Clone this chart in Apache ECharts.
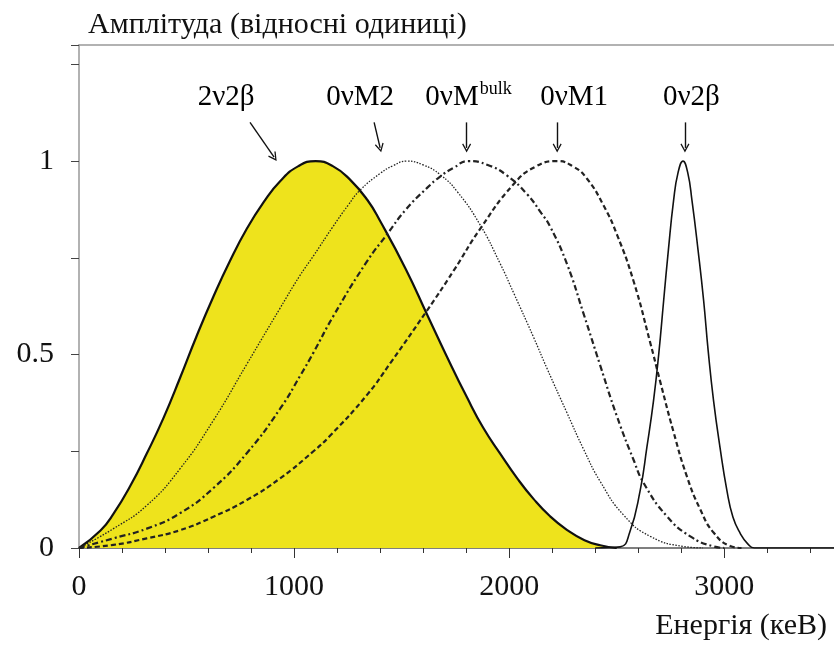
<!DOCTYPE html>
<html><head><meta charset="utf-8">
<script src="https://cdn.jsdelivr.net/npm/echarts@6/dist/echarts.min.js"></script>
<style>html,body{margin:0;padding:0;background:#fff}#c{width:834px;height:653px}</style>
</head><body><div id="c"></div>
<script>
// Energy (keV) and relative amplitude of each spectrum
const e2nu2b = [0,100,160,240,315,392,470,547,625,700,780,860,935,1020,1100,1180,1260,1340,1400,1520,1617,1710,1803,1880,1958,2040,2113,2190,2268,2350,2423,2500];
const v2nu2b = [0,0.045,0.088,0.162,0.244,0.335,0.44,0.548,0.65,0.74,0.825,0.895,0.948,0.987,1.0,0.987,0.952,0.9,0.845,0.72,0.605,0.495,0.39,0.31,0.244,0.178,0.127,0.082,0.047,0.02,0.007,0];

const eM2 = [0,160,315,470,625,780,935,1028,1090,1180,1250,1307,1400,1460,1524,1600,1679,1760,1865,1958,2020,2113,2175,2268,2346,2423,2532,2656,2811,2900];
const vM2 = [0,0.05,0.11,0.205,0.33,0.475,0.62,0.705,0.755,0.83,0.885,0.925,0.968,0.988,1.0,0.99,0.965,0.92,0.835,0.735,0.66,0.545,0.465,0.35,0.255,0.172,0.085,0.03,0.004,0];

const eBulk = [0,160,315,470,625,780,935,1028,1090,1183,1338,1431,1520,1617,1679,1740,1810,1900,1989,2082,2150,2191,2268,2346,2423,2501,2578,2625,2733,2842,2950,3000];
const vBulk = [0,0.025,0.05,0.09,0.155,0.245,0.36,0.445,0.505,0.6,0.74,0.81,0.875,0.93,0.96,0.982,1.0,0.99,0.963,0.915,0.865,0.83,0.735,0.605,0.472,0.34,0.228,0.168,0.082,0.03,0.004,0];

const eM1 = [0,160,315,470,625,780,935,1090,1167,1338,1450,1617,1741,1865,2020,2120,2222,2300,2361,2439,2501,2578,2656,2702,2764,2826,2888,2950,3028,3080];
const vM1 = [0,0.008,0.025,0.046,0.081,0.124,0.18,0.25,0.29,0.395,0.48,0.613,0.716,0.825,0.94,0.985,1.0,0.985,0.955,0.885,0.81,0.69,0.53,0.43,0.3,0.185,0.1,0.04,0.005,0];

const e0nu2b = [2400,2516,2560,2609,2640,2671,2695,2718,2740,2764,2785,2808,2830,2850,2878,2904,2925,2950,2980,3012,3040,3074,3110,3140,3510];
const v0nu2b = [0,0.003,0.04,0.149,0.26,0.381,0.5,0.639,0.77,0.897,0.97,1.0,0.97,0.897,0.77,0.639,0.51,0.381,0.26,0.149,0.08,0.038,0.01,0,0];

// annotation labels and arrows (data coordinates)
const labelTexts = ['2ν2β','0νM2','0νM{sup|bulk}','0νM1','0ν2β'];
const labelE = [684,1307,1811,2302,2847];
const labelY = [1.165,1.165,1.165,1.165,1.165];
const arrowFromE = [795,1372,1802,2223,2817];
const arrowFromY = [1.10,1.10,1.10,1.10,1.10];
const arrowToE = [907,1400,1802,2223,2817];
const arrowToY = [1.01,1.034,1.034,1.034,1.034];

// axis ticks
const xMax = 3510, yMax = 1.3;
const yTickLabels = {0:'0',0.5:'0.5',1:'1'};

const zip = (a,b) => a.map((x,i)=>[x,b[i]]);
const FONT = 'Liberation Serif';
const chevron = 'path://M5,0 L10,9 L8.8,9.8 L5,2.8 L1.2,9.8 L0,9 Z';

const chart = echarts.init(document.getElementById('c'), null, {renderer:'canvas'});
const lineBase = {type:'line', smooth:0.5, symbol:'none', xAxisIndex:0, yAxisIndex:0, silent:true};
chart.setOption({
  animation:false,
  backgroundColor:'#ffffff',
  grid:{left:79, right:0, top:45, bottom:105, containLabel:false},
  xAxis:[
    {type:'value', min:0, max:xMax, interval:200, position:'bottom',
     axisLine:{lineStyle:{color:'#555', width:1.5}},
     axisTick:{length:5, lineStyle:{color:'#333'}},
     axisLabel:{formatter:v => (v%1000===0 && v<=3000) ? String(v) : '', fontFamily:FONT, fontSize:30, color:'#111', margin:24, showMaxLabel:false},
     splitLine:{show:false},
     name:'Енергія (кеВ)', nameLocation:'end', nameGap:-7,
     nameTextStyle:{fontFamily:FONT, fontSize:30, color:'#111', align:'right', verticalAlign:'top', padding:[63,0,0,0]}},
    {type:'value', min:0, max:xMax, interval:1000, position:'bottom',
     axisLine:{show:false}, axisTick:{length:10, lineStyle:{color:'#333'}},
     axisLabel:{show:false}, splitLine:{show:false}},
    {type:'value', min:0, max:xMax, position:'top',
     axisLine:{lineStyle:{color:'#999', width:1.5}}, axisTick:{show:false},
     axisLabel:{show:false}, splitLine:{show:false}}
  ],
  yAxis:{type:'value', min:0, max:yMax, interval:0.25,
     axisLine:{show:true, lineStyle:{color:'#999', width:1.5}},
     axisTick:{show:true, length:8, lineStyle:{color:'#444'}},
     axisLabel:{formatter:v => (yTickLabels[v] !== undefined ? yTickLabels[v] : ''), fontFamily:FONT, fontSize:30, color:'#111', margin:25},
     splitLine:{show:false},
     name:'Амплітуда (відносні одиниці)', nameLocation:'end', nameGap:5,
     nameTextStyle:{fontFamily:FONT, fontSize:30, color:'#111', align:'left', verticalAlign:'bottom', padding:[0,0,0,9]}},
  series:[
    Object.assign({}, lineBase, {name:'2ν2β', data:zip(e2nu2b,v2nu2b), z:2,
      lineStyle:{color:'#111', width:2.2}, areaStyle:{color:'#EEE31C', opacity:1}}),
    Object.assign({}, lineBase, {name:'0νM2', data:zip(eM2,vM2), z:3,
      lineStyle:{color:'#222', width:1.3, type:[1.5,1.5]}}),
    Object.assign({}, lineBase, {name:'0νMbulk', data:zip(eBulk,vBulk), z:3,
      lineStyle:{color:'#222', width:2.2, type:[6,3,2,3]}}),
    Object.assign({}, lineBase, {name:'0νM1', data:zip(eM1,vM1), z:3,
      lineStyle:{color:'#222', width:2.2, type:[5,3]}}),
    Object.assign({}, lineBase, {name:'0ν2β', data:zip(e0nu2b,v0nu2b), z:3,
      lineStyle:{color:'#111', width:1.6}}),
    {type:'scatter', silent:true, symbolSize:0, z:5, itemStyle:{opacity:1},
     data: labelTexts.map((t,i)=>[labelE[i], labelY[i], t]),
     label:{show:true, position:'inside', opacity:1, formatter:p => p.data[2], fontFamily:FONT, fontSize:29, color:'#000',
       rich:{sup:{fontFamily:FONT, fontSize:18, color:'#000', padding:[0,0,16,1]}}},
     markLine:{silent:true, symbol:['none', chevron], symbolSize:[9,9],
       lineStyle:{color:'#111', width:1.4, type:'solid', opacity:1}, label:{show:false},
       data: arrowFromE.map((e,i)=>[{coord:[e, arrowFromY[i]]},{coord:[arrowToE[i], arrowToY[i]]}])}}
  ]
});
</script></body></html>
